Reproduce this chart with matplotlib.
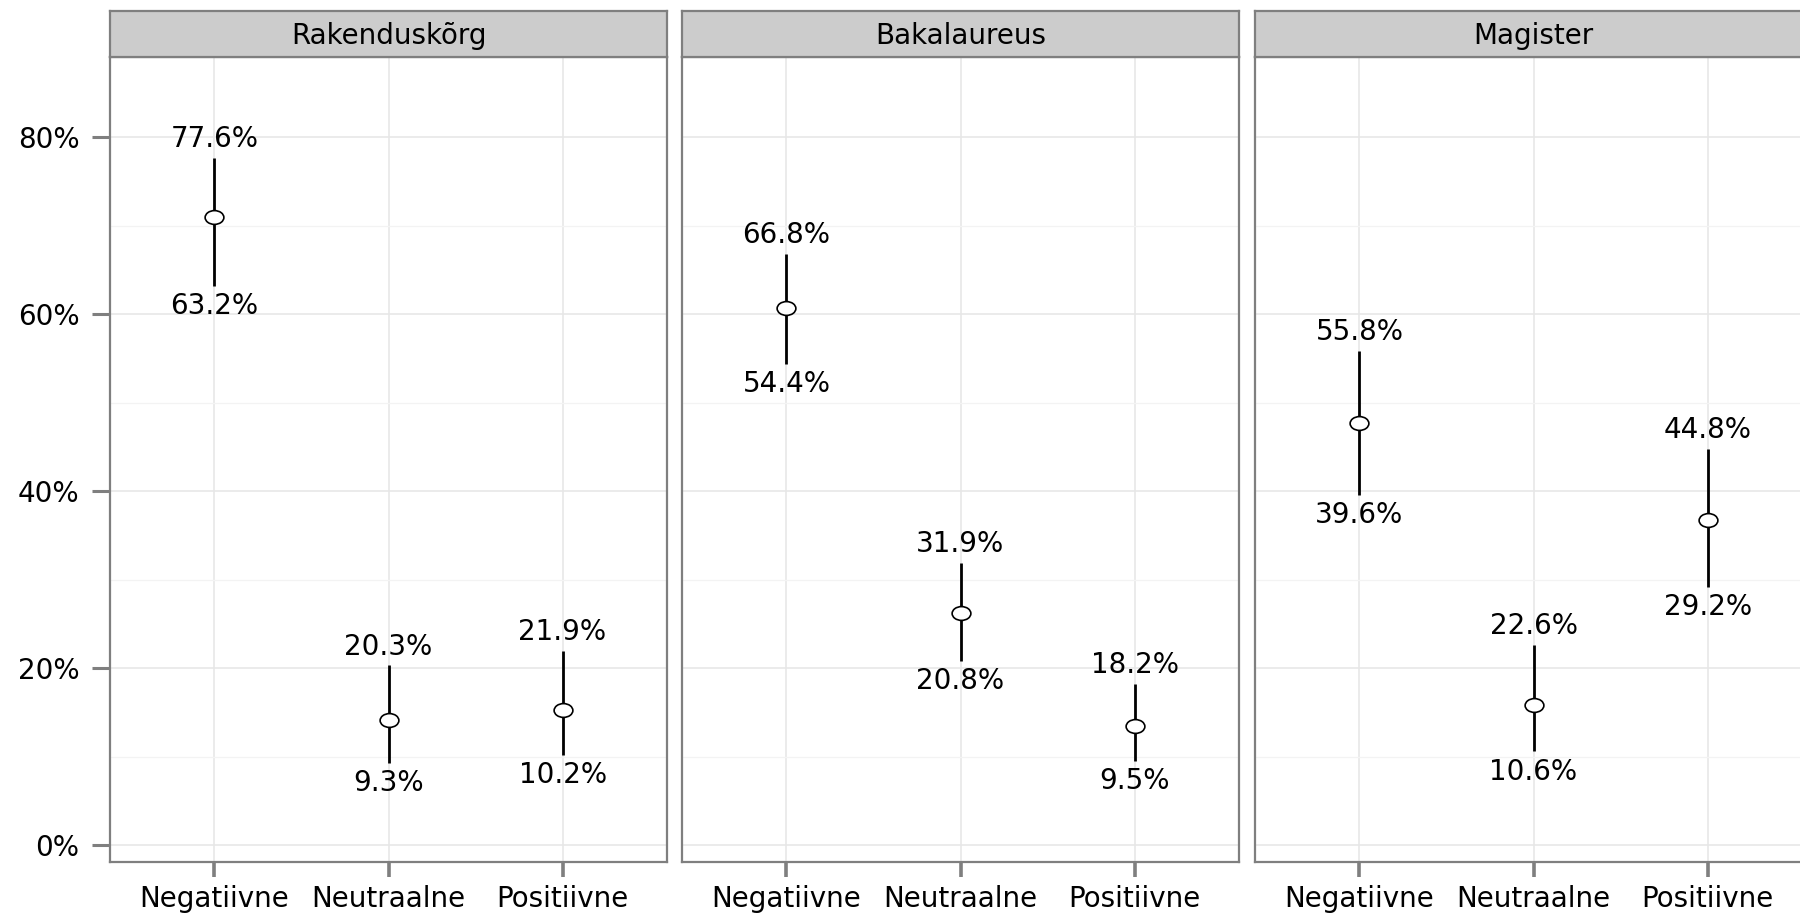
import numpy as np
import matplotlib
matplotlib.use("Agg")
import matplotlib.pyplot as plt
from matplotlib.path import Path
from matplotlib.ticker import FixedLocator, FuncFormatter

# ── Data ───────────────────────────────────────
groups = ["Rakenduskõrg", "Bakalaureus", "Magister"]
categories = ["Negatiivne", "Neutraalne", "Positiivne"]

estimate = [[71.0, 14.1, 15.2],
            [60.7, 26.2, 13.4],
            [47.7, 15.8, 36.7]]
lower = [[63.2, 9.3, 10.2],
         [54.4, 20.8, 9.5],
         [39.6, 10.6, 29.2]]
upper = [[77.6, 20.3, 21.9],
         [66.8, 31.9, 18.2],
         [55.8, 22.6, 44.8]]

# ── Style ──────────────────────────────────────
plt.rcParams["font.family"] = ["DejaVu Sans"]
FS = 20
BORDER = "#7f7f7f"

W, H = 1800, 915
fig = plt.figure(figsize=(W / 100, H / 100), dpi=100)

# the source picture is a bit stretched sideways, so are the points
circ = Path.unit_circle()
ellipse = Path(circ.vertices * [1.36, 1.0], circ.codes)

panel_left = [110, 682, 1255]
panel_w = 557
panel_top, panel_bot = 57, 862
strip_top = 11

x = np.arange(len(categories))

for i, g in enumerate(groups):
    ax = fig.add_axes([panel_left[i] / W, 1 - panel_bot / H,
                       panel_w / W, (panel_bot - panel_top) / H])
    ax.set_xlim(-0.6, 2.6)
    ax.set_ylim(-1.92, 89.04)

    # grid
    ax.yaxis.set_major_locator(FixedLocator([0, 20, 40, 60, 80]))
    ax.yaxis.set_minor_locator(FixedLocator([10, 30, 50, 70]))
    ax.set_xticks(x)
    ax.grid(which="major", color="#e6e6e6", lw=1.1, zorder=0)
    ax.grid(which="minor", axis="y", color="#f3f3f3", lw=0.9, zorder=0)
    ax.set_axisbelow(True)

    ax.vlines(x, lower[i], upper[i], color="black", lw=2.0, zorder=2)
    ax.plot(x, estimate[i], linestyle="none", marker=ellipse, ms=13.5,
            mfc="white", mec="black", mew=1.2, zorder=3)

    for xi, lo, hi in zip(x, lower[i], upper[i]):
        ax.annotate(f"{hi:.1f}%", (xi, hi), xytext=(0, 7.8),
                    textcoords="offset points", ha="center",
                    va="baseline", fontsize=FS)
        ax.annotate(f"{lo:.1f}%", (xi, lo), xytext=(0, -20.5),
                    textcoords="offset points", ha="center",
                    va="baseline", fontsize=FS)

    for s in ax.spines.values():
        s.set_color(BORDER)
        s.set_linewidth(1.6)

    ax.set_xticklabels(categories, fontsize=FS)
    ax.tick_params(axis="x", length=10.8, width=2.6, color=BORDER, pad=6)
    ax.tick_params(axis="y", which="minor", length=0)
    if i == 0:
        ax.yaxis.set_major_formatter(FuncFormatter(lambda v, p: f"{v:.0f}%"))
        ax.tick_params(axis="y", which="major", length=13, width=2.2,
                       color=BORDER, pad=9, labelsize=FS)
    else:
        ax.tick_params(axis="y", which="major", length=0, labelleft=False)

    # facet strip
    sax = fig.add_axes([panel_left[i] / W, 1 - panel_top / H,
                        panel_w / W, (panel_top - strip_top) / H])
    sax.set_facecolor("#cccccc")
    sax.set_xticks([])
    sax.set_yticks([])
    for s in sax.spines.values():
        s.set_color(BORDER)
        s.set_linewidth(1.6)
    sax.text(0.5, 0.45, g, transform=sax.transAxes, ha="center",
             va="center", fontsize=FS)

fig.savefig("out.png", dpi=100)
